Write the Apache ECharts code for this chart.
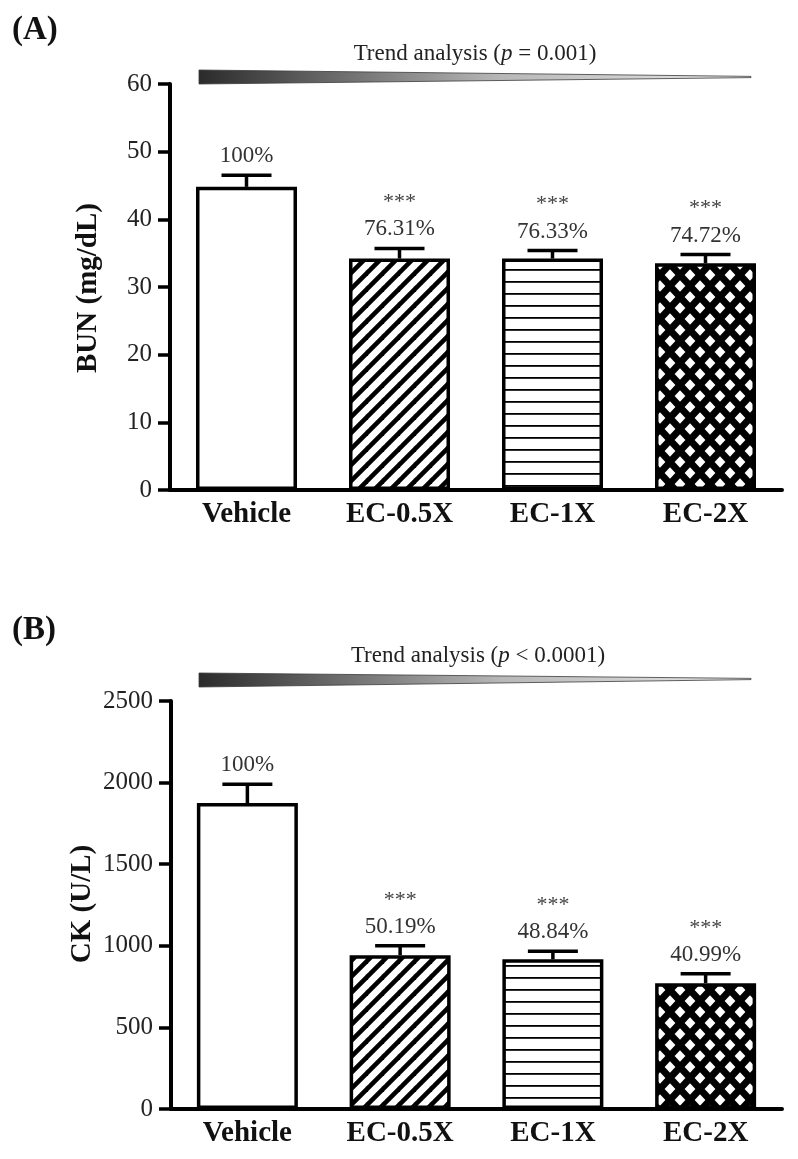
<!DOCTYPE html>
<html>
<head>
<meta charset="utf-8">
<script src="https://cdn.jsdelivr.net/npm/echarts@6/dist/echarts.min.js"></script>
<style>
html,body{margin:0;padding:0;background:#fff;}
#chart{width:798px;height:1159px;}
</style>
</head>
<body>
<div id="chart"></div>
<script>
// ---------- DATA ----------
const categories = ['Vehicle', 'EC-0.5X', 'EC-1X', 'EC-2X'];

const bunMean = [44.8, 34.2, 34.2, 33.5];
const bunSem  = [1.7, 1.5, 1.2, 1.3];
const bunPct  = ['100%', '76.31%', '76.33%', '74.72%'];
const bunSig  = ['', '***', '***', '***'];
const bunTicks = [0, 10, 20, 30, 40, 50, 60];

const ckMean = [1875, 942, 917, 771];
const ckSem  = [115, 58, 50, 57];
const ckPct  = ['100%', '50.19%', '48.84%', '40.99%'];
const ckSig  = ['', '***', '***', '***'];
const ckTicks = [0, 500, 1000, 1500, 2000, 2500];

const panelTitles = ['(A)', '(B)'];
const yTitles = ['BUN (mg/dL)', 'CK (U/L)'];
const trendP = ['= 0.001', '< 0.0001'];

// ---------- PATTERNS ----------
const FONT = "'Liberation Serif','Times New Roman',serif";
function mkCanvas(w, h) { const c = document.createElement('canvas'); c.width = w; c.height = h; return c; }
function diagPattern() {
  const s = 16, c = mkCanvas(s, s), g = c.getContext('2d');
  g.fillStyle = '#fff'; g.fillRect(0, 0, s, s);
  g.strokeStyle = '#000'; g.lineWidth = 4.6; g.lineCap = 'square';
  for (let k = -1; k <= 1; k++) { g.beginPath(); g.moveTo(k * s, s); g.lineTo(k * s + s, 0); g.stroke(); }
  return c;
}
function horzPattern() {
  const c = mkCanvas(12, 12), g = c.getContext('2d');
  g.fillStyle = '#fff'; g.fillRect(0, 0, 12, 12);
  g.fillStyle = '#000'; g.fillRect(0, 5, 12, 1.8);
  return c;
}
function crossPattern() {
  const w = 20, h = 22, c = mkCanvas(w, h), g = c.getContext('2d');
  g.fillStyle = '#000'; g.fillRect(0, 0, w, h);
  g.fillStyle = '#fff';
  const d = (cx, cy) => { g.beginPath(); g.moveTo(cx - 5.4, cy); g.lineTo(cx, cy - 5.8); g.lineTo(cx + 5.4, cy); g.lineTo(cx, cy + 5.8); g.closePath(); g.fill(); };
  d(0, 0); d(w, 0); d(0, h); d(w, h); d(w / 2, h / 2);
  return c;
}
const fills = [
  '#ffffff',
  { image: diagPattern(), repeat: 'repeat' },
  { image: horzPattern(), repeat: 'repeat' },
  { image: crossPattern(), repeat: 'repeat' }
];

// ---------- LAYOUT ----------
const grids = [
  { left: 170, right: 16, top: 84, height: 406 },
  { left: 171, right: 16, top: 701, height: 408 }
];

function xAxisCfg(i) {
  return {
    type: 'category', gridIndex: i, data: categories,
    axisLine: { lineStyle: { color: '#000', width: 4 } },
    axisTick: { show: false },
    axisLabel: { color: '#111', fontFamily: FONT, fontWeight: 'bold', fontSize: 29, margin: 10 }
  };
}
function yAxisCfg(i, ticks) {
  return {
    type: 'value', gridIndex: i, min: ticks[0], max: ticks[ticks.length - 1],
    interval: ticks[1] - ticks[0],
    axisLine: { show: true, lineStyle: { color: '#000', width: 4 } },
    axisTick: { show: true, length: 12, lineStyle: { color: '#000', width: 3.5 } },
    axisLabel: { color: '#222', fontFamily: FONT, fontSize: 25, margin: 18, formatter: v => String(v) },
    splitLine: { show: false }
  };
}

function barSeries(i, mean) {
  return {
    type: 'bar', xAxisIndex: i, yAxisIndex: i, barWidth: 101,
    data: mean.map((v, k) => ({ value: v, itemStyle: { color: fills[k] } })),
    itemStyle: { borderColor: '#000', borderWidth: 3.5 },
    z: 2, animation: false
  };
}

function errSeries(i, mean, sem, pct, sig) {
  return {
    type: 'custom', xAxisIndex: i, yAxisIndex: i, z: 3, animation: false,
    data: mean.map((v, k) => [k, v, v + sem[k]]),
    renderItem: function (params, api) {
      const k = api.value(0);
      const base = api.coord([k, api.value(1)]);
      const top = api.coord([k, api.value(2)]);
      const half = 25;
      const st = { stroke: '#000', lineWidth: 3.5 };
      return {
        type: 'group',
        children: [
          { type: 'line', shape: { x1: base[0], y1: base[1], x2: top[0], y2: top[1] }, style: st },
          { type: 'line', shape: { x1: top[0] - half, y1: top[1], x2: top[0] + half, y2: top[1] }, style: st },
          { type: 'text', style: { text: pct[k], x: top[0], y: top[1] - 19, align: 'center', verticalAlign: 'middle', fill: '#333', font: '23px ' + FONT } },
          { type: 'text', style: { text: sig[k], x: top[0], y: top[1] - 46, align: 'center', verticalAlign: 'middle', fill: '#444', font: '22px ' + FONT } }
        ]
      };
    }
  };
}

function wedge(y0, y1, yTip) {
  return {
    type: 'polygon',
    shape: { points: [[199, y0], [751, yTip - 0.6], [751, yTip + 0.6], [199, y1]] },
    style: {
      fill: new echarts.graphic.LinearGradient(0, 0, 1, 0, [
        { offset: 0, color: '#2b2b2b' }, { offset: 0.55, color: '#b8b8b8' }, { offset: 1, color: '#e8e8e8' }
      ]),
      stroke: '#3a3a3a', lineWidth: 0.8
    }
  };
}
function trendText(x, y, p) {
  return {
    type: 'text', x: x, y: y,
    style: {
      text: '{a|Trend analysis (}{p|p}{a| ' + p + ')}',
      align: 'center', verticalAlign: 'middle',
      rich: {
        a: { fontFamily: FONT, fontSize: 23, fill: '#222', color: '#222' },
        p: { fontFamily: FONT, fontSize: 23, fontStyle: 'italic', fill: '#222', color: '#222' }
      }
    }
  };
}
function panelTitle(x, y, t) {
  return { type: 'text', x: x, y: y, style: { text: t, align: 'left', verticalAlign: 'middle', fill: '#111', font: 'bold 33px ' + FONT } };
}
function yTitle(x, y, t) {
  return { type: 'text', x: x, y: y, rotation: Math.PI / 2,
    style: { text: t, align: 'center', verticalAlign: 'middle', fill: '#111', font: 'bold 29px ' + FONT } };
}

const option = {
  backgroundColor: '#fff',
  animation: false,
  grid: grids,
  xAxis: [xAxisCfg(0), xAxisCfg(1)],
  yAxis: [yAxisCfg(0, bunTicks), yAxisCfg(1, ckTicks)],
  series: [
    barSeries(0, bunMean), errSeries(0, bunMean, bunSem, bunPct, bunSig),
    barSeries(1, ckMean), errSeries(1, ckMean, ckSem, ckPct, ckSig)
  ],
  graphic: [
    panelTitle(12, 30, panelTitles[0]),
    panelTitle(12, 630, panelTitles[1]),
    yTitle(89, 288, yTitles[0]),
    yTitle(83, 904, yTitles[1]),
    wedge(70, 84, 77),
    wedge(673, 687, 679),
    trendText(475, 54, trendP[0]),
    trendText(478, 656, trendP[1])
  ]
};

const chart = echarts.init(document.getElementById('chart'), null, { renderer: 'canvas' });
chart.setOption(option);
</script>
</body>
</html>
